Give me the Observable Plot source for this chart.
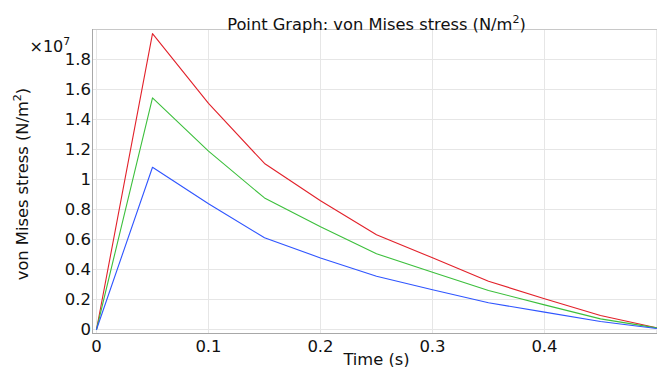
<!DOCTYPE html>
<html>
<head>
<meta charset="utf-8">
<script src="https://cdn.jsdelivr.net/npm/d3@7"></script>
<script src="https://cdn.jsdelivr.net/npm/@observablehq/plot@0.6"></script>
<style>
  html, body { margin: 0; padding: 0; background: #fff; }
  #chart svg { display: block; }
</style>
</head>
<body>
<div id="chart"></div>
<script>
// Time (s)
const times = [0, 0.05, 0.1, 0.15, 0.2, 0.25, 0.3, 0.35, 0.4, 0.45, 0.5];
// von Mises stress, in units of 1e7 N/m^2
const series1 = [0, 1.973, 1.507, 1.107, 0.858, 0.632, 0.478, 0.322, 0.205, 0.093, 0.012];
const series2 = [0, 1.544, 1.189, 0.877, 0.685, 0.505, 0.382, 0.260, 0.164, 0.071, 0.011];
const series3 = [0, 1.082, 0.838, 0.612, 0.477, 0.355, 0.265, 0.178, 0.116, 0.053, 0.007];
const seriesNames = ["Point 1", "Point 2", "Point 3"];
const seriesColors = ["#e2212a", "#3cbf3c", "#2f55ff"];
const xTicks = [0, 0.1, 0.2, 0.3, 0.4];
const xGrid = [0, 0.1, 0.2, 0.3, 0.4, 0.5];
const yTicks = [0, 0.2, 0.4, 0.6, 0.8, 1, 1.2, 1.4, 1.6, 1.8];
const titleText = "Point Graph: von Mises stress (N/m²)";
const xLabel = "Time (s)";
const yLabel = "von Mises stress (N/m²)";
const exponentLabel = "×10⁷";

const allSeries = [series1, series2, series3];
const rows = [];
allSeries.forEach((vals, si) => {
  vals.forEach((v, i) => rows.push({series: seriesNames[si], t: times[i], v}));
});

const font = "DejaVu Sans";
const chart = Plot.plot({
  width: 658,
  height: 367,
  marginLeft: 92,
  marginRight: 2,
  marginTop: 29,
  marginBottom: 34,
  style: {fontFamily: font, background: "#fff", overflow: "visible", color: "#111"},
  x: {domain: [0, 0.5], range: [96, 656]},
  y: {domain: [0, 2], range: [329, 29]},
  color: {domain: seriesNames, range: seriesColors},
  marks: [
    Plot.gridY(yTicks, {stroke: "#e6e6e6", strokeOpacity: 1}),
    Plot.gridX(xGrid, {stroke: "#e6e6e6", strokeOpacity: 1}),
    Plot.frame({anchor: "top", stroke: "#c8c8c8"}),
    Plot.frame({anchor: "left", stroke: "#a8a8a8"}),
    Plot.frame({anchor: "bottom", stroke: "#a8a8a8"}),
    Plot.axisY(yTicks, {tickSize: 0, tickPadding: 1.5, fontSize: 16.5, label: null,
      tickFormat: d => String(d)}),
    Plot.axisX(xTicks, {tickSize: 0, tickPadding: 7, fontSize: 16.5, label: null,
      tickFormat: d => String(d)}),
    Plot.line(rows, {x: "t", y: "v", z: "series", stroke: "series", strokeWidth: 1.1}),
    Plot.text([titleText], {frameAnchor: "top", dx: 2, dy: -11, fontSize: 16.3, fill: "#111"}),
    Plot.text([exponentLabel], {frameAnchor: "top-left", textAnchor: "start", dx: -63, dy: 11, fontSize: 16, fill: "#111"}),
    Plot.text([xLabel], {frameAnchor: "bottom", dx: 2, dy: 31, fontSize: 16.3, fill: "#111"}),
    Plot.text([yLabel], {frameAnchor: "left", textAnchor: "middle", rotate: -90, dx: -69.5, dy: 2.5, fontSize: 16.3, fill: "#111"})
  ]
});

// Render Unicode superscript digits as raised tspans, like the reference.
const supMap = {"²": "2", "⁷": "7"};
chart.querySelectorAll("text").forEach(t => {
  if (t.children.length) return;
  const s = t.textContent;
  const m = s.match(/[²⁷]/);
  if (!m) return;
  const idx = m.index;
  const before = s.slice(0, idx), sup = supMap[m[0]], after = s.slice(idx + 1);
  t.textContent = "";
  const ns = "http://www.w3.org/2000/svg";
  const a = document.createElementNS(ns, "tspan"); a.textContent = before; t.appendChild(a);
  const b = document.createElementNS(ns, "tspan");
  b.textContent = sup; b.setAttribute("font-size", "68%"); b.setAttribute("dy", "-0.62em");
  t.appendChild(b);
  if (after) {
    const c = document.createElementNS(ns, "tspan");
    c.textContent = after; c.setAttribute("dy", "0.42em"); t.appendChild(c);
  }
});
document.getElementById("chart").appendChild(chart);
</script>
</body>
</html>
